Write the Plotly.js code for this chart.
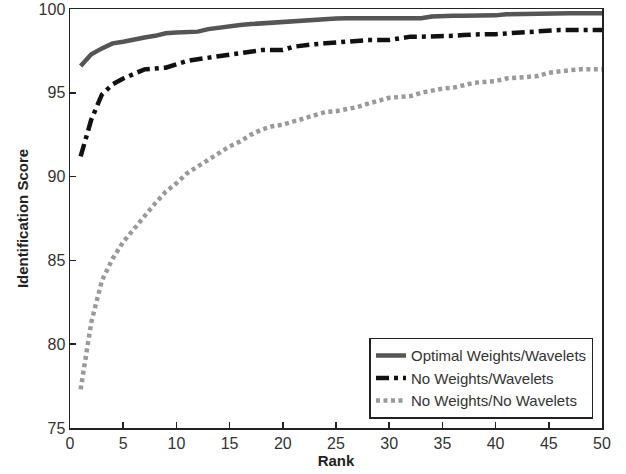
<!DOCTYPE html>
<html>
<head>
<meta charset="utf-8">
<script src="https://cdn.plot.ly/plotly-3.0.1.min.js"></script>
<style>html,body{margin:0;padding:0;background:#fff;}#chart{width:626px;height:474px;}</style>
</head>
<body>
<div id="chart"></div>
<script>
const ranks = Array.from({length: 50}, (_, i) => i + 1);

const optimalWeightsWavelets = [
  96.6, 97.3, 97.65, 97.95, 98.05, 98.2, 98.3, 98.4, 98.55, 98.6,
  98.6, 98.65, 98.8, 98.9, 99.0, 99.05, 99.1, 99.15, 99.15, 99.2,
  99.3, 99.3, 99.35, 99.42, 99.44, 99.45, 99.45, 99.45, 99.45, 99.45,
  99.45, 99.45, 99.45, 99.55, 99.6, 99.6, 99.6, 99.6, 99.6, 99.62,
  99.68, 99.7, 99.7, 99.7, 99.7, 99.72, 99.75, 99.75, 99.75, 99.75
];

const noWeightsWavelets = [
  91.2, 93.4, 94.9, 95.5, 95.85, 96.15, 96.4, 96.45, 96.5, 96.7,
  96.9, 97.0, 97.1, 97.2, 97.3, 97.35, 97.5, 97.55, 97.55, 97.55,
  97.75, 97.85, 97.9, 97.95, 98.0, 98.05, 98.15, 98.15, 98.15, 98.15,
  98.25, 98.35, 98.35, 98.35, 98.35, 98.4, 98.45, 98.5, 98.5, 98.5,
  98.55, 98.58, 98.6, 98.65, 98.72, 98.75, 98.75, 98.75, 98.75, 98.75
];

const noWeightsNoWavelets = [
  77.3, 81.3, 83.8, 85.1, 86.1, 86.9, 87.7, 88.4, 89.1, 89.6,
  90.2, 90.6, 91.0, 91.4, 91.8, 92.1, 92.5, 92.8, 93.0, 93.1,
  93.3, 93.5, 93.65, 93.85, 93.9, 94.0, 94.15, 94.35, 94.55, 94.7,
  94.75, 94.8, 95.0, 95.15, 95.25, 95.3, 95.45, 95.6, 95.65, 95.7,
  95.85, 95.9, 95.95, 96.0, 96.2, 96.3, 96.35, 96.4, 96.4, 96.4
];

const seriesNames = ['Optimal Weights/Wavelets', 'No Weights/Wavelets', 'No Weights/No Wavelets'];
const xTicks = [0, 5, 10, 15, 20, 25, 30, 35, 40, 45, 50];
const yTicks = [75, 80, 85, 90, 95, 100];

const traces = [
  {x: ranks, y: optimalWeightsWavelets, name: seriesNames[0], mode: 'lines',
   line: {color: '#555555', width: 4.5, dash: 'solid'}},
  {x: ranks, y: noWeightsWavelets, name: seriesNames[1], mode: 'lines',
   line: {color: '#111111', width: 4.5, dash: '13px,5px,4px,5px'}},
  {x: ranks, y: noWeightsNoWavelets, name: seriesNames[2], mode: 'lines',
   line: {color: '#9a9a9a', width: 4.5, dash: '4px,3.5px'}}
];

const layout = {
  width: 626, height: 474,
  margin: {l: 70, r: 24, t: 9, b: 46},
  paper_bgcolor: '#ffffff', plot_bgcolor: '#ffffff',
  font: {family: 'Arial, "Liberation Sans", sans-serif', size: 16, color: '#222'},
  showlegend: true,
  legend: {
    x: 0.984, y: 0.022, xanchor: 'right', yanchor: 'bottom',
    bgcolor: '#ffffff', bordercolor: '#222', borderwidth: 1.5,
    font: {size: 15, color: '#333'}, tracegroupgap: 0
  },
  xaxis: {
    range: [0, 50], tickvals: xTicks, ticktext: xTicks.map(String),
    ticks: 'inside', ticklen: 6, tickcolor: '#222', tickwidth: 1.5,
    showline: true, linecolor: '#222', linewidth: 1.5, mirror: true,
    showgrid: false, zeroline: false,
    tickfont: {size: 16, color: '#333'},
    title: {text: '<b>Rank</b>', font: {size: 15, color: '#222'}, standoff: 5}
  },
  yaxis: {
    range: [75, 100], tickvals: yTicks, ticktext: yTicks.map(String),
    ticks: 'inside', ticklen: 6, tickcolor: '#222', tickwidth: 1.5,
    showline: true, linecolor: '#222', linewidth: 1.5, mirror: true,
    showgrid: false, zeroline: false,
    tickfont: {size: 16, color: '#333'},
    title: {text: '<b>Identification Score</b>', font: {size: 15, color: '#222'}, standoff: 6}
  }
};

Plotly.newPlot('chart', traces, layout, {displayModeBar: false, staticPlot: true});
</script>
</body>
</html>
